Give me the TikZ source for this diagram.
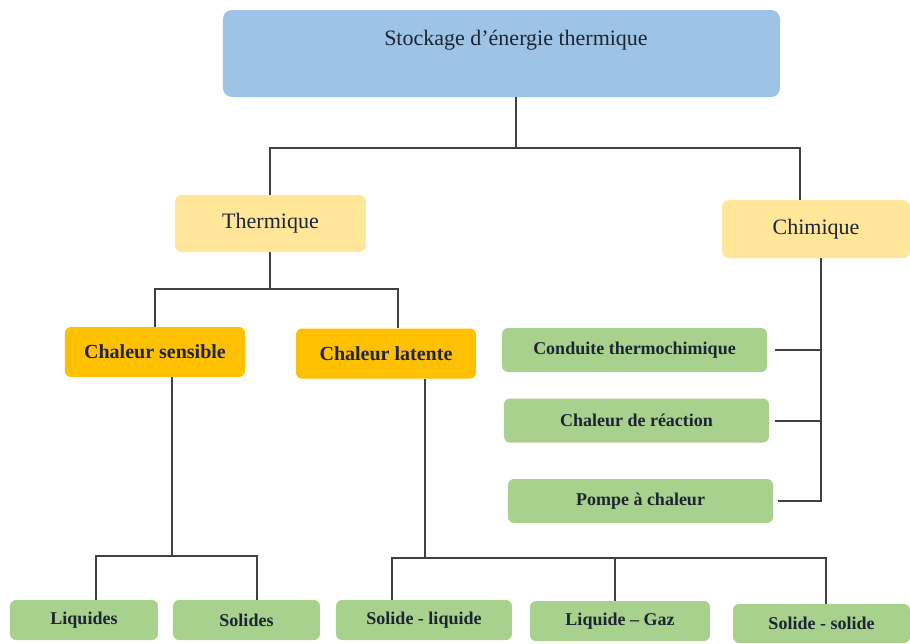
\documentclass[tikz,border=0pt]{standalone}
\usepackage{fontspec}
\setmainfont{Liberation Serif}
\usetikzlibrary{calc}
\definecolor{bleuclair}{HTML}{9DC3E6}
\definecolor{jaunepale}{HTML}{FFE699}
\definecolor{orangevif}{HTML}{FFC000}
\definecolor{vertclair}{HTML}{A9D18E}
\definecolor{gristrait}{HTML}{404040}
\definecolor{textefonce}{HTML}{1E2433}

\begin{document}
\begin{tikzpicture}
        \tikzstyle {titre_box} = [rectangle, rounded corners=9pt, minimum width=557pt, inner ysep=0pt, text height=35pt, text depth=52pt, fill=bleuclair, text=textefonce, font=\fontsize{22}{26}\selectfont]
        \tikzstyle {categorie} = [rectangle, rounded corners=7pt, minimum width=191pt, minimum height=57pt, text centered, fill=jaunepale, text=textefonce, font=\fontsize{22}{26}\selectfont]
        \tikzstyle {sous_categorie} = [rectangle, rounded corners=6pt, minimum width=180pt, minimum height=50pt, text centered, fill=orangevif, text=textefonce, font=\bfseries\fontsize{20}{24}\selectfont]
        \tikzstyle {methode} = [rectangle, rounded corners=6pt, minimum width=265pt, minimum height=44pt, text centered, fill=vertclair, text=textefonce, font=\bfseries\fontsize{18}{22}\selectfont]
        \tikzstyle {feuille} = [rectangle, rounded corners=6pt, minimum width=148pt, minimum height=40pt, text centered, fill=vertclair, text=textefonce, font=\bfseries\fontsize{18}{22}\selectfont]
        \tikzstyle {lien} = [draw=gristrait, line width=2pt]
        \useasboundingbox (-501.5pt,53.5pt) rectangle (408.5pt,-589.5pt);
        \node (titre) [titre_box]{\hspace*{29pt}Stockage d'énergie thermique};
        \node (thermique) [categorie, node distance=170pt, below of=titre, xshift=-231pt]{Thermique};
        \node (chimique) [categorie, minimum width=188pt, minimum height=58pt, node distance=545.5pt, right of=thermique, yshift=-5.5pt]{Chimique};
        \node (sensible) [sous_categorie, node distance=128.5pt, below of=thermique, xshift=-115.5pt]{Chaleur sensible};
        \node (latente) [sous_categorie, node distance=231pt, right of=sensible, yshift=-1.5pt]{Chaleur latente};
        \node (conduite) [methode, node distance=121pt, below of=chimique, xshift=-181.5pt]{Conduite thermochimique};
        \node (reaction) [methode, node distance=70.5pt, below of=conduite, xshift=2pt]{Chaleur de réaction};
        \node (pompe) [methode, node distance=80.5pt, below of=reaction, xshift=4pt]{Pompe à chaleur};
        \node (liquides) [feuille, node distance=268pt, below of=sensible, xshift=-71pt]{Liquides};
        \node (solides) [feuille, minimum width=147pt, node distance=162.5pt, right of=liquides]{Solides};
        \node (solide_liquide) [feuille, minimum width=176pt, node distance=177.5pt, right of=solides]{Solide - liquide};
        \node (liquide_gaz) [feuille, minimum width=180pt, node distance=196pt, right of=solide_liquide, yshift=-1pt]{Liquide – Gaz};
        \node (solide_solide) [feuille, minimum width=177pt, minimum height=39pt, node distance=201.5pt, right of=liquide_gaz, yshift=-2.5pt]{Solide - solide};
        \coordinate (bus1) at ($(titre.south)+(0,-51pt)$);
        \coordinate (bus2) at ($(thermique.south)+(0,-37pt)$);
        \coordinate (bus3) at ($(sensible.south)+(17pt,-179pt)$);
        \coordinate (bus4) at ($(latente.south)+(39pt,-179pt)$);
        \coordinate (bus5) at ([xshift=5pt]chimique.south);
        \draw [lien] ([xshift=14.5pt]titre.south) -- ([xshift=14.5pt]bus1);
        \draw [lien] (thermique.north) |- (bus1) -| ([xshift=-16pt]chimique.north);
        \draw [lien] (thermique.south) -- (bus2);
        \draw [lien] (sensible.north) |- (bus2) -| ([xshift=12pt]latente.north);
        \draw [lien] ([xshift=17pt]sensible.south) -- (bus3);
        \draw [lien] ([xshift=12pt]liquides.north) |- (bus3) -| ([xshift=10.5pt]solides.north);
        \draw [lien] ([xshift=39pt]latente.south) -- (bus4);
        \draw [lien] ([xshift=-32pt]solide_liquide.north) |- (bus4) -| ([xshift=4.5pt]solide_solide.north);
        \draw [lien] ([xshift=-5pt]liquide_gaz.north) -- ([xshift=-5pt]liquide_gaz.north |- bus4);
        \draw [lien] (bus5) |- ([xshift=5pt]pompe.east);
        \draw [lien] ([xshift=8pt]conduite.east) -- (conduite.east -| bus5);
        \draw [lien] ([xshift=6pt]reaction.east) -- (reaction.east -| bus5);
    \end{tikzpicture}
\end{document}
